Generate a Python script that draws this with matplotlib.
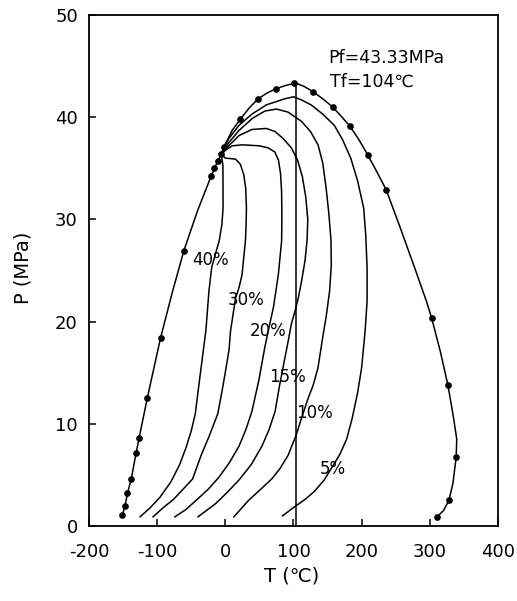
import matplotlib.pyplot as plt

plt.rcParams['font.family'] = ['DejaVu Sans']
plt.rcParams['axes.unicode_minus'] = False

# phase envelope (bubble + dew line) of the mixture, T in degC, P in MPa
env_T = [-151, -147, -143.5, -138, -131, -126.5, -114.5, -95, -78, -61, -41, -21, -16, -11, -6, -2,
         10, 22, 35, 48, 62, 75, 88, 101, 104, 116, 128.5, 143, 157.5, 170, 183, 196, 209, 222,
         236, 256, 276, 295, 302.5, 315, 326.5, 334.8, 339.5, 338.7, 334, 328, 320, 310.6]
env_P = [1.07, 2.0, 3.2, 4.6, 7.1, 8.6, 12.5, 18.4, 22.8, 26.9, 30.8, 34.2, 35.0, 35.7, 36.4, 37.1,
         38.7, 39.8, 40.9, 41.8, 42.4, 42.8, 43.1, 43.3, 43.33, 43.0, 42.5, 41.8, 41.0, 40.1, 39.1,
         37.8, 36.3, 34.7, 32.9, 29.3, 25.6, 22.0, 20.4, 17.2, 13.8, 10.6, 8.5, 6.75, 4.2, 2.5, 1.5, 0.9]

# measured points on the envelope
pts_T = [-151, -147, -143.5, -138, -131, -126.5, -114.5, -95, -61, -21, -16, -11, -6, -2,
         22, 48, 75, 101, 128.5, 157.5, 183, 209, 236, 302.5, 326.5, 338.7, 328, 310.6]
pts_P = [1.07, 2.0, 3.2, 4.6, 7.1, 8.6, 12.5, 18.4, 26.9, 34.2, 35.0, 35.7, 36.4, 37.1,
         39.8, 41.8, 42.8, 43.3, 42.5, 41.0, 39.1, 36.3, 32.9, 20.4, 13.8, 6.75, 2.5, 0.9]

# iso-vapour-fraction lines
q40_T = [-6, -3.5, -3.3, -5, -9, -15, -20, -24, -28.5, -33, -38, -44, -50, -57.5, -67, -80, -96, -110, -125]
q40_P = [36.4, 35.3, 31.1, 29.5, 27.9, 26.5, 25.3, 23.0, 19.1, 16.8, 14.2, 11.0, 9.3, 7.7, 6.0, 4.3, 2.8, 1.8, 0.9]

q30_T = [-6, 0, 15, 22, 27, 30, 31, 30.5, 29.5, 24.6, 20, 15, 7.7, 5.4, 0.4, -4, -11, -23.6, -35, -48, -62, -76, -91, -106]
q30_P = [36.4, 36.0, 35.9, 35.4, 34.4, 33.0, 31.1, 29.5, 27.9, 24.6, 23.3, 22.3, 19.1, 17.2, 15.2, 13.5, 11.0, 8.8, 7.0, 4.6, 3.6, 2.6, 1.8, 0.9]

q20_T = [-6, 3, 10, 25, 50, 63, 72.6, 78, 81, 82.6, 83, 82.6, 77.8, 70.6, 63, 58, 49, 39, 30, 20, 6, -9, -25, -43, -58, -74]
q20_P = [36.4, 36.9, 37.2, 37.3, 37.2, 37.0, 36.6, 35.8, 34.5, 32.7, 30.0, 27.9, 24.6, 21.4, 19.1, 17.5, 14.2, 11.2, 9.4, 7.8, 6.2, 4.8, 3.6, 2.5, 1.6, 0.9]

q15_T = [-6, 5, 20, 39, 60, 73, 85, 97, 106, 113, 118, 121, 120, 117, 112, 107, 103, 97, 92, 87, 80, 73, 64, 53.6, 38, 20, 3, -14, -28, -40]
q15_P = [36.4, 37.2, 38.2, 38.8, 38.9, 38.6, 37.9, 37.0, 35.8, 34.2, 32.2, 30.0, 28.0, 26.0, 24.0, 22.3, 21.2, 19.8, 18.0, 16.3, 13.9, 11.2, 9.4, 7.8, 6.0, 4.5, 3.3, 2.2, 1.5, 0.9]

q10_T = [-6, 5, 20, 40, 58, 75, 92, 111.6, 125, 136, 143, 148, 152, 155, 155.5, 153, 148, 143, 136, 129, 121, 112, 104, 92, 80, 68, 53.6, 34, 22, 12.6]
q10_P = [36.4, 37.5, 38.7, 39.9, 40.6, 40.8, 40.5, 39.6, 38.6, 37.3, 35.5, 33.0, 30.5, 28.0, 25.5, 23.0, 20.5, 18.5, 15.5, 13.8, 12.4, 10.6, 8.9, 6.9, 5.6, 4.6, 3.7, 2.5, 1.6, 0.9]

q5_T = [-6, 5, 20, 39, 60, 87, 100, 111.6, 126, 143, 160, 172, 184, 194, 203, 206, 208, 208, 205, 200, 194, 186, 178, 168, 158, 145, 131, 117, 102, 84]
q5_P = [36.4, 37.9, 39.2, 40.3, 41.2, 41.8, 42.0, 41.7, 41.2, 40.3, 39.2, 37.8, 36.0, 33.8, 31.1, 28.5, 25.3, 22.0, 19.0, 15.5, 13.0, 10.5, 8.5, 7.0, 5.9, 4.5, 3.4, 2.6, 1.9, 1.0]

quality_lines = [(q40_T, q40_P), (q30_T, q30_P), (q20_T, q20_P),
                 (q15_T, q15_P), (q10_T, q10_P), (q5_T, q5_P)]
quality_labels = ['40%', '30%', '20%', '15%', '10%', '5%']
label_T = [-21, 30.3, 62.6, 91.2, 131.5, 158.4]
label_P = [26.0, 22.1, 19.1, 14.6, 11.1, 5.6]

Pf = 43.33
Tf = 104

fig = plt.figure(figsize=(5.17, 6.01), dpi=100)
ax = fig.add_axes([0.1721, 0.1248, 0.7911, 0.8502])

ax.plot(env_T, env_P, color='black', lw=1.1)
ax.plot(pts_T, pts_P, 'o', color='black', ms=3.8)

for (qT, qP) in quality_lines:
    ax.plot(qT, qP, color='black', lw=1.1)

# cricondenbar line
ax.plot([Tf, Tf], [0, Pf], color='black', lw=1.1)

for txt, t, p in zip(quality_labels, label_T, label_P):
    ax.text(t, p, txt, fontsize=12, ha='center', va='center')

ax.text(150.6, 45.8, 'Pf=%.2fMPa' % Pf, fontsize=12.5, va='center')
ax.text(153.5, 43.5, 'Tf=%d℃' % Tf, fontsize=12.5, va='center')

ax.set_xlim(-200, 400)
ax.set_ylim(0, 50)
ax.set_xticks([-200, -100, 0, 100, 200, 300, 400])
ax.set_yticks([0, 10, 20, 30, 40, 50])
ax.tick_params(direction='in', length=5, width=1.1, labelsize=13)
ax.tick_params(axis='x', pad=12)
ax.tick_params(axis='y', pad=8)
for s in ax.spines.values():
    s.set_linewidth(1.3)

ax.set_xlabel('T (℃)', fontsize=14)
ax.set_ylabel('P (MPa)', fontsize=14)
ax.xaxis.set_label_coords(0.496, -0.08)
ax.yaxis.set_label_coords(-0.137, 0.505)

fig.savefig('out.png', dpi=100)
